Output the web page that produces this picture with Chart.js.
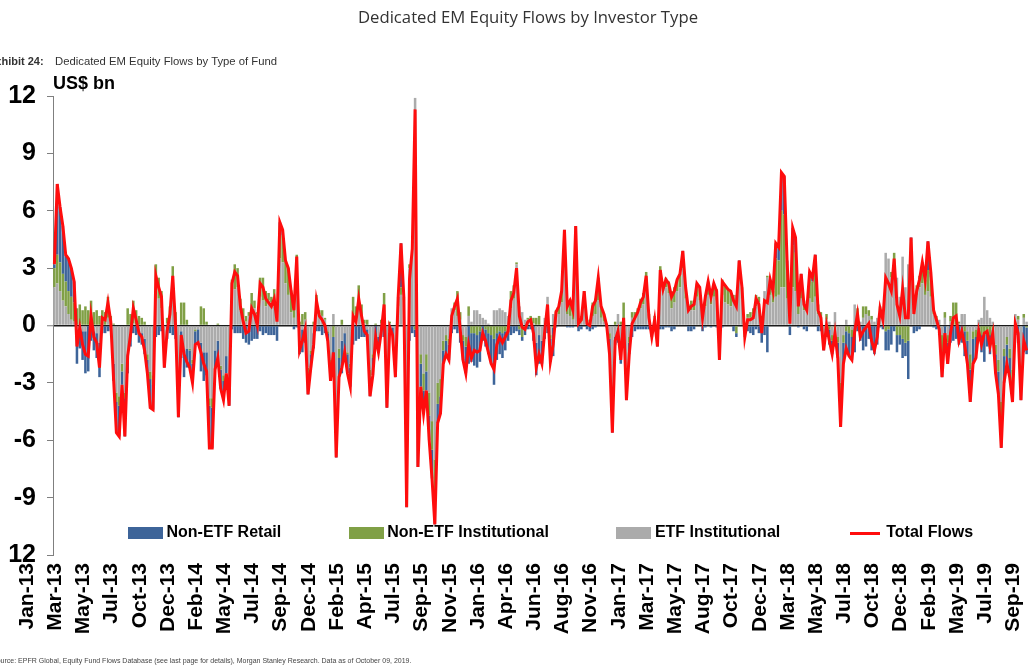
<!DOCTYPE html>
<html><head><meta charset="utf-8">
<script src="https://cdn.jsdelivr.net/npm/chart.js"></script>
<style>
html,body{margin:0;padding:0;background:#fff;}
#wrap{position:relative;width:1028px;height:667px;overflow:hidden;background:#fff;}
#c{position:absolute;left:0;top:0;}
.t{position:absolute;white-space:nowrap;font-family:"Liberation Sans",Arial,sans-serif;line-height:1;}
</style></head><body>
<div id="wrap">
<canvas id="c" width="1028" height="667"></canvas>
<div class="t" style="left:0;width:1056px;text-align:center;top:9px;font-family:'Open Sans',sans-serif;font-size:16.7px;color:#333;">Dedicated EM Equity Flows by Investor Type</div>
<div class="t" style="left:-12px;top:56px;font-size:11px;font-weight:bold;color:#333;">Exhibit 24:</div>
<div class="t" style="left:55px;top:56px;font-size:11.3px;color:#333;">Dedicated EM Equity Flows by Type of Fund</div>
<div class="t" style="left:53px;top:74px;font-size:18px;font-weight:bold;color:#000;">US$ bn</div>
<div class="t" style="left:-8px;top:657px;font-size:7px;color:#444;">Source: EPFR Global, Equity Fund Flows Database (see last page for details), Morgan Stanley Research. Data as of October 09, 2019.</div>
</div>
<script>
// ---- data (US$ bn, weekly) ----
const totalFlows = [
3.2,7.4,6.2,5.2,3.7,3.5,3.0,2.3,-1.1,-0.1,
-1.0,-1.5,-1.6,0.5,-0.6,-0.9,-2.2,0.4,0.3,1.2,
0.2,-2.8,-5.6,-5.8,-3.1,-5.8,-1.6,-0.5,0.9,0.3,
-0.4,-0.6,-1.3,-2.5,-4.3,-4.4,2.6,2.0,1.5,-2.2,
-0.3,0.6,2.6,0.0,-4.8,-0.5,-1.5,-1.9,-2.2,-3.0,
-1.0,-0.9,-1.4,-2.0,-2.4,-6.4,-6.4,-2.3,-1.7,-3.3,
-3.9,-2.5,-4.2,2.2,2.8,2.6,1.0,0.2,-0.4,-0.3,
0.9,0.6,0.0,2.2,2.0,1.4,1.2,1.0,1.4,0.2,
5.4,5.0,3.4,3.0,1.8,0.8,3.6,-1.3,-0.8,-0.2,
-3.6,-2.2,-1.0,1.3,0.5,0.3,0.0,-0.8,-2.9,-1.4,
-6.9,-2.7,-2.2,-1.4,-2.5,-3.2,0.5,0.2,1.4,0.5,
-0.3,-0.5,-3.7,-2.6,-0.6,-1.4,-0.3,1.1,-4.3,-0.1,
-0.5,-2.7,1.5,4.3,1.5,-9.5,2.4,4.0,11.3,-7.4,
-3.2,-4.6,-3.4,-6.0,-8.0,-10.4,-5.1,-4.6,-2.0,-1.5,
-1.8,0.5,1.0,1.4,-0.2,-1.8,-2.5,-1.0,-1.7,-1.3,
-1.4,-1.3,-0.4,-0.8,-1.4,-2.0,-2.3,-1.0,-0.6,-0.9,
-0.6,-0.3,1.3,1.7,3.0,0.5,-0.1,-0.2,0.2,0.3,
-0.4,-2.2,-1.5,-2.0,-0.3,1.1,-1.9,-1.0,0.7,1.0,
1.8,5.0,1.0,1.3,0.8,5.2,0.1,0.3,1.8,0.1,
0.0,1.0,1.3,2.5,1.0,0.6,0.0,-1.5,-5.6,-0.8,
-0.3,-1.8,0.4,-3.9,-1.5,0.1,0.4,0.7,1.2,1.5,
2.6,0.4,-0.6,0.3,-1.1,2.9,1.9,2.4,2.2,1.5,
1.8,2.4,2.7,3.9,2.0,0.8,1.0,1.1,2.2,2.0,
0.4,1.5,2.3,1.5,2.2,1.8,-1.8,2.3,2.1,1.9,
1.8,1.3,1.0,3.4,2.0,-0.6,0.3,0.3,0.4,1.4,
1.1,-0.4,1.3,1.2,2.4,1.8,4.3,4.1,8.0,7.8,
3.4,0.1,5.1,4.6,1.0,2.7,1.1,0.8,2.8,2.5,
3.7,0.8,0.4,-1.3,0.0,-0.8,-1.5,-0.4,-1.7,-5.3,
-2.0,-1.2,-1.6,-1.8,-0.3,0.6,-0.6,-0.3,-0.1,0.1,
-0.8,-1.3,-0.6,0.9,0.3,2.5,2.2,1.8,3.5,1.1,
0.5,1.9,0.4,0.4,4.6,0.6,1.8,2.4,3.3,2.4,
4.4,2.8,0.8,0.3,-0.2,-2.7,-0.4,-2.0,-0.4,0.4,
0.5,-0.8,-0.3,-1.0,-2.0,-4.0,-2.0,-1.7,-0.3,-1.0,
-0.4,-0.3,-1.1,-0.4,-2.5,-3.6,-6.4,-3.0,-2.0,-2.7,
-4.0,0.1,-0.4,-3.9,-0.8,-1.3];

const etfInstitutional = [
2.0,2.2,1.8,1.3,1.0,0.6,0.3,0.2,-0.2,0.1,
-0.3,-0.3,0.0,0.3,-0.3,-0.4,-0.9,0.2,0.0,0.4,
0.2,-2.0,-3.5,-3.7,-2.0,-3.5,-1.5,-0.5,0.1,0.0,
-0.3,-0.4,-0.7,-1.5,-2.4,-2.6,2.3,1.4,0.9,-1.3,
0.1,0.4,1.5,0.2,-3.0,-0.3,-1.3,-1.2,-1.2,-1.8,
-0.2,-0.2,-0.9,-1.4,-1.4,-3.8,-3.8,-1.3,-0.8,-2.1,
-2.6,-1.6,-3.0,1.9,1.9,2.0,0.8,0.4,0.2,0.5,
0.8,0.9,0.6,1.5,1.3,1.0,1.3,1.2,1.0,0.7,
3.5,3.3,2.2,1.6,0.7,0.4,2.0,-0.8,-0.2,0.3,
-2.2,-1.3,-0.4,0.6,0.6,0.5,0.3,-0.3,-1.8,0.6,
-4.5,-1.2,-0.8,-0.4,-1.4,-2.0,0.6,0.4,0.9,0.5,
0.1,-0.2,-2.3,-1.5,0.0,-0.6,0.1,0.7,-2.8,0.1,
-0.1,-1.7,1.0,1.6,1.3,-7.5,3.0,4.3,11.9,-5.0,
-1.5,-2.5,-1.5,-3.5,-5.0,-7.0,-3.0,-2.8,-0.8,-0.5,
-0.7,0.9,0.8,0.5,0.3,-0.5,-0.6,0.5,0.2,0.8,
0.8,0.6,0.4,0.3,0.1,0.0,0.8,0.8,0.9,0.8,
0.7,0.5,0.9,1.4,3.2,1.0,0.7,0.3,0.3,0.2,
0.1,-0.9,-0.5,-0.8,0.4,1.5,-0.5,0.6,0.4,0.6,
1.2,3.8,0.6,0.5,0.3,4.0,0.2,0.2,1.3,0.2,
0.1,0.5,0.6,1.3,0.4,0.2,0.0,-0.4,-3.5,-0.6,
0.6,-1.5,0.3,-2.2,-0.6,0.4,0.4,0.7,0.9,1.1,
2.2,0.4,-0.1,0.4,-0.5,2.8,1.8,2.0,1.7,0.9,
1.2,1.8,2.0,3.0,1.4,0.8,0.8,0.8,1.5,1.3,
0.4,1.0,1.6,1.1,1.5,1.3,-1.2,1.6,1.2,1.1,
1.0,1.3,1.6,2.4,1.4,-0.2,0.4,0.4,0.6,1.0,
1.2,0.4,1.8,2.5,1.6,1.2,1.5,1.6,2.0,2.0,
1.4,0.6,2.0,1.8,0.6,1.4,0.8,0.9,1.4,1.2,
1.5,0.6,0.3,-0.5,0.3,0.2,-0.5,0.7,-0.6,-3.0,
-0.5,0.3,0.0,-0.2,1.1,0.6,0.2,0.4,0.6,0.5,
0.3,0.2,0.4,0.8,0.5,3.8,3.5,2.5,3.0,2.5,
1.5,3.6,2.0,3.2,4.0,1.0,1.6,2.0,2.2,1.6,
1.8,1.5,0.6,0.3,0.3,-0.5,0.4,-0.5,0.2,0.0,
0.0,0.1,0.6,0.6,-0.3,-1.5,-0.3,-0.2,0.3,0.4,
1.5,0.8,0.4,0.2,-1.0,-1.8,-4.0,-1.2,-0.6,-1.2,
-2.3,0.6,0.3,-2.3,0.4,0.2];

const nonEtfInstitutional = [
1.0,1.5,1.5,1.4,1.3,1.2,1.2,1.0,0.9,1.0,
0.8,1.0,0.8,1.0,0.7,0.8,0.5,0.6,0.7,1.1,
0.3,0.1,-0.5,-0.5,-0.4,-0.3,0.9,0.6,1.2,0.8,
0.5,0.4,0.2,-0.3,-0.4,-0.5,0.9,1.1,0.9,-0.2,
0.3,0.6,1.6,0.5,-0.6,1.2,1.2,0.3,-0.1,-0.2,
-0.1,0.0,1.0,0.9,0.2,-0.4,-0.5,0.0,0.1,-0.2,
-0.3,0.0,-0.3,0.5,1.3,1.0,0.6,0.5,0.3,0.2,
0.9,0.4,0.1,1.0,1.2,0.8,0.4,0.3,0.9,0.3,
1.6,1.4,1.2,1.4,1.1,0.6,1.7,0.2,0.6,0.4,
-0.3,-0.2,0.2,1.0,0.2,0.3,0.1,-0.1,-0.5,-0.6,
-1.0,-0.5,0.3,0.0,-0.1,-0.2,0.9,0.6,1.2,0.6,
0.2,0.3,-0.4,-0.2,0.1,0.0,0.2,1.0,-0.4,0.1,
0.0,-0.3,0.3,0.4,0.2,-0.8,0.2,0.1,-0.2,-1.0,
-0.5,-0.9,-0.9,-1.2,-1.5,-1.8,-1.1,-0.9,-0.5,-0.3,
-0.3,0.0,0.4,1.3,0.4,-0.3,-0.5,0.5,-0.4,-0.4,
-0.5,-0.3,0.0,-0.2,-0.4,-0.5,-0.7,-0.4,-0.3,-0.4,
-0.3,-0.1,0.9,0.7,0.1,-0.2,-0.6,-0.2,0.1,0.3,
0.3,0.4,0.5,0.0,0.0,0.0,-0.2,-0.1,0.4,0.4,
0.5,1.0,0.5,0.9,0.6,1.0,0.2,0.3,0.5,0.1,
0.2,0.7,0.8,1.1,0.6,0.4,0.1,-0.3,-1.0,0.2,
-0.1,0.2,0.9,-0.8,-0.3,0.3,0.3,0.2,0.5,0.6,
0.6,0.2,0.0,0.1,-0.1,0.3,0.3,0.5,0.6,0.9,
0.8,0.6,0.7,0.8,0.6,0.3,0.5,0.5,0.7,0.7,
0.3,0.6,0.7,0.5,0.7,0.6,-0.2,0.8,0.9,0.8,
0.8,0.3,-0.4,0.8,0.6,-0.4,0.2,0.3,0.3,0.6,
0.3,0.1,0.0,0.1,0.6,0.5,2.0,1.8,4.0,3.8,
1.5,0.0,2.2,2.0,0.5,1.1,0.5,0.2,1.1,1.1,
1.8,0.5,0.4,-0.3,0.3,-0.2,-0.3,-0.2,-0.3,-0.7,
-0.4,-0.3,-0.4,-0.4,0.0,0.3,0.0,0.6,0.4,0.3,
0.2,0.0,0.0,0.2,0.0,-0.3,-0.2,0.3,0.8,-0.5,
-0.5,-0.7,-0.9,-0.8,0.4,0.0,0.5,0.6,1.1,0.8,
1.1,1.0,0.3,0.2,-0.3,-1.3,0.3,-0.4,0.3,1.2,
1.2,0.1,0.0,-0.3,-0.5,-0.8,-0.4,-0.4,-0.1,-0.5,
-0.5,-0.3,-0.5,-0.2,-0.5,-0.6,-1.0,-0.4,-0.4,-0.5,
-0.7,0.0,0.2,-0.7,0.2,-0.1];

const nonEtfRetail = [
0.2,3.7,2.9,2.5,1.4,1.7,1.5,1.1,-1.8,-1.2,
-1.5,-2.2,-2.4,-0.8,-1.0,-1.3,-1.8,-0.4,-0.4,-0.3,
-0.3,-0.9,-1.6,-1.6,-0.7,-2.0,-1.0,-0.6,-0.4,-0.5,
-0.6,-0.6,-0.8,-0.7,-1.5,-1.3,-0.6,-0.5,-0.3,-0.7,
-0.7,-0.4,-0.5,-0.7,-1.2,-1.4,-1.4,-1.0,-0.9,-1.0,
-0.7,-0.7,-1.5,-1.5,-1.2,-2.2,-2.1,-1.0,-1.0,-1.0,
-1.0,-0.9,-0.9,-0.2,-0.4,-0.4,-0.4,-0.7,-0.9,-1.0,
-0.8,-0.7,-0.7,-0.3,-0.5,-0.4,-0.5,-0.5,-0.5,-0.8,
0.3,0.3,0.0,0.0,0.0,-0.2,-0.1,-0.7,-1.2,-0.9,
-1.1,-0.7,-0.8,-0.3,-0.3,-0.5,-0.4,-0.4,-0.6,-1.4,
-1.4,-1.0,-1.7,-1.0,-1.0,-1.0,-1.0,-0.8,-0.7,-0.6,
-0.6,-0.6,-1.0,-0.9,-0.7,-0.8,-0.6,-0.6,-1.1,-0.3,
-0.4,-0.7,0.2,2.3,0.0,-1.2,-0.8,-0.4,-0.4,-1.4,
-1.2,-1.2,-1.0,-1.3,-1.5,-1.6,-1.0,-0.9,-0.7,-0.7,
-0.8,-0.4,-0.2,-0.4,-0.9,-1.0,-1.4,-2.0,-1.5,-1.7,
-1.7,-1.6,-0.8,-0.9,-1.1,-1.5,-2.4,-1.4,-1.2,-1.3,
-1.0,-0.7,-0.5,-0.4,-0.3,-0.3,-0.2,-0.3,-0.2,-0.2,
-0.8,-1.7,-1.5,-1.2,-0.7,-0.4,-1.2,-1.5,-0.1,0.0,
0.1,0.2,-0.1,-0.1,-0.1,0.2,-0.3,-0.2,0.0,-0.2,
-0.3,-0.2,-0.1,0.1,0.0,0.0,-0.1,-0.8,-1.1,-0.4,
-0.8,-0.5,-0.8,-0.9,-0.6,-0.6,-0.3,-0.2,-0.2,-0.2,
-0.2,-0.2,-0.5,-0.2,-0.5,-0.2,-0.2,-0.1,-0.1,-0.3,
-0.2,0.0,0.0,0.1,0.0,-0.3,-0.3,-0.2,0.0,0.0,
-0.3,-0.1,0.0,-0.1,0.0,-0.1,-0.4,-0.1,0.0,0.0,
0.0,-0.3,-0.2,0.2,0.0,0.0,-0.3,-0.4,-0.5,-0.2,
-0.4,-0.9,-0.5,-1.4,0.2,0.1,0.8,0.7,2.0,2.0,
0.5,-0.5,0.9,0.8,-0.1,0.2,-0.2,-0.3,0.3,0.2,
0.4,-0.3,-0.3,-0.5,-0.6,-0.8,-0.7,-0.9,-0.8,-1.6,
-1.1,-1.2,-1.2,-1.2,-1.4,-0.3,-0.8,-1.3,-1.1,-0.7,
-1.3,-1.5,-1.0,-0.1,-0.2,-1.0,-1.1,-1.0,-0.3,-0.9,
-0.5,-1.0,-0.7,-2.0,0.2,-0.4,-0.3,-0.2,0.0,0.0,
1.5,0.3,-0.1,-0.2,-0.2,-0.9,-1.1,-1.1,-0.9,-0.8,
-0.7,-1.0,-0.9,-1.3,-1.2,-1.7,-1.3,-1.1,-0.5,-0.9,
-1.4,-0.8,-1.0,-0.4,-1.0,-1.2,-1.4,-1.4,-1.0,-1.0,
-1.0,-0.5,-0.9,-0.9,-1.4,-1.4];

const xTickLabels = ['Jan-13','Mar-13','May-13','Jul-13','Oct-13','Dec-13','Feb-14','May-14','Jul-14','Sep-14',
'Dec-14','Feb-15','Apr-15','Jul-15','Sep-15','Nov-15','Jan-16','Apr-16','Jun-16','Aug-16',
'Nov-16','Jan-17','Mar-17','May-17','Aug-17','Oct-17','Dec-17','Mar-18','May-18','Jul-18',
'Oct-18','Dec-18','Feb-19','May-19','Jul-19','Sep-19'];
const yTickValues = [-12,-9,-6,-3,0,3,6,9,12];
const yTickLabels = ['12','-9','-6','-3','0','3','6','9','12'];
const seriesNames = ['Non-ETF Retail','Non-ETF Institutional','ETF Institutional','Total Flows'];

// ---- categories (weeks) ----
const N = totalFlows.length;
const weekLabels = Array.from({length: N}, (_, i) => new Date(Date.UTC(2013, 0, 2 + 7 * i)).toISOString().slice(0, 10));

// ---- styling ----
const COL = { retail: '#3D6499', inst: '#80A046', etf: '#ABABAB', total: '#FF0D0D' };
const FONT = '"Liberation Sans", Arial, Helvetica, sans-serif';
const labelWeekStep = 10, labelWeekShift = -9.7;
const labelWeeks = xTickLabels.map((_, i) => i * labelWeekStep + labelWeekShift);

function swatch(w, h, color) {
  const c = document.createElement('canvas');
  c.width = w; c.height = h;
  const g = c.getContext('2d');
  g.fillStyle = color; g.fillRect(0, 0, w, h);
  return c;
}
const swatches = {
  'Non-ETF Retail': swatch(35, 12, COL.retail),
  'Non-ETF Institutional': swatch(35, 12, COL.inst),
  'ETF Institutional': swatch(35, 12, COL.etf),
  'Total Flows': swatch(30, 3, COL.total)
};

const LEG = { pad: 72, fontSize: 16, left: 60.5, centerY: 533 };
const moveLegend = {
  id: 'moveLegend',
  afterLayout(chart) {
    const lg = chart.legend;
    if (!lg) return;
    lg.left = LEG.left;
    lg.right = 1300;
    lg.top = LEG.centerY - LEG.pad - LEG.fontSize / 2;
    lg.bottom = lg.top + 200;
    lg.width = lg.right - lg.left;
    lg.height = lg.bottom - lg.top;
  }
};

const barCommon = { type: 'bar', order: 1, borderWidth: 0, barPercentage: 0.9, categoryPercentage: 1.0, xAxisID: 'x', yAxisID: 'y' };

new Chart(document.getElementById('c'), {
  type: 'bar',
  data: {
    labels: weekLabels,
    datasets: [
      { type: 'line', label: seriesNames[3], data: totalFlows, order: 0, borderColor: COL.total, backgroundColor: COL.total,
        borderWidth: 3, pointRadius: 0, tension: 0, fill: false, xAxisID: 'x', yAxisID: 'y' },
      Object.assign({ label: seriesNames[2], data: etfInstitutional, backgroundColor: COL.etf }, barCommon),
      Object.assign({ label: seriesNames[1], data: nonEtfInstitutional, backgroundColor: COL.inst }, barCommon),
      Object.assign({ label: seriesNames[0], data: nonEtfRetail, backgroundColor: COL.retail }, barCommon)
    ]
  },
  options: {
    responsive: false,
    animation: false,
    devicePixelRatio: 1,
    layout: { padding: { top: 95, bottom: 32, left: 0, right: 0 } },
    plugins: {
      title: { display: false },
      tooltip: { enabled: false },
      legend: {
        display: true, position: 'top', align: 'start', maxHeight: 1,
        labels: {
          usePointStyle: true, pointStyleWidth: 26, boxHeight: 12, padding: LEG.pad, color: '#000',
          font: { family: FONT, size: LEG.fontSize, weight: 'bold' },
          generateLabels(chart) {
            const items = Chart.defaults.plugins.legend.labels.generateLabels(chart);
            items.forEach(it => { it.pointStyle = swatches[it.text]; it.fontColor = '#000'; });
            items.sort((a, b) => seriesNames.indexOf(a.text) - seriesNames.indexOf(b.text));
            return items;
          }
        }
      }
    },
    scales: {
      x: { type: 'category', display: false, stacked: true, offset: true },
      xl: {
        type: 'linear', position: 'bottom', min: -0.5, max: N - 0.5, offset: false, bounds: 'data',
        afterBuildTicks: s => { s.ticks = labelWeeks.map(v => ({ value: v })); },
        afterFit: s => { s.height = 80; s.paddingLeft = 0; s.paddingRight = 0; },
        ticks: {
          autoSkip: false, minRotation: 90, maxRotation: 90, padding: 8, color: '#000',
          font: { family: FONT, size: 21, weight: 'bold' },
          callback: (v, i) => xTickLabels[i]
        },
        grid: { display: false, drawTicks: false, offset: false },
        border: { display: false }
      },
      y: {
        position: 'left', min: -12, max: 12, stacked: true, z: 1,
        afterFit: s => { s.width = 53; },
        afterBuildTicks: s => { s.ticks = yTickValues.map(v => ({ value: v })); },
        ticks: {
          padding: 11, color: '#000',
          font: { family: FONT, size: 25, weight: 'bold' },
          callback: v => { const k = yTickValues.indexOf(v); return k >= 0 ? yTickLabels[k] : ''; }
        },
        grid: {
          drawOnChartArea: true,
          color: c => (c.tick && c.tick.value === 0) ? '#1a1a1a' : 'rgba(0,0,0,0)',
          lineWidth: c => (c.tick && c.tick.value === 0) ? 1.5 : 1,
          tickLength: 6, tickColor: '#7f7f7f', tickWidth: 1
        },
        border: { display: true, color: '#7f7f7f', width: 1 }
      }
    }
  },
  plugins: [moveLegend]
});
</script>
</body></html>
